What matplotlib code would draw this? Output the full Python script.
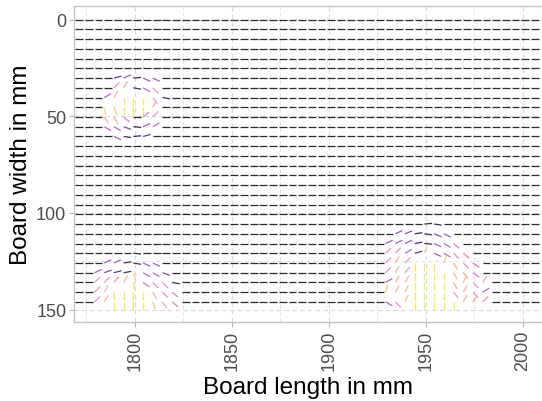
import numpy as np
import matplotlib
matplotlib.use('Agg')
import matplotlib.pyplot as plt
from matplotlib.collections import LineCollection
from matplotlib.colors import LinearSegmentedColormap

plt.rcParams['font.family'] = ['Liberation Sans', 'DejaVu Sans']

# sample points of the fibre field on the board (mm)
x_cols = 1769.3 + 5 * np.arange(48)
y_rows = np.linspace(0, 146, 30)
spoke_len = 4

# fibre angles in degrees around the three knots,
# everywhere else the fibres lie flat (angle 0)
knot_a_row0, knot_a_col0 = 5, 2
knot_a = [
    [0, 0, 0, 0, 0, 0, 0, 0],
    [0, 0, -15, -25, -5, 25, 25, 0],
    [0, 0, -45, -60, 10, 30, 45, 0],
    [0, -30, -60, 90, 90, 90, 55, 10],
    [0, 80, 70, 90, 90, 90, -60, 0],
    [0, 55, 60, 40, 0, -40, -45, 0],
    [0, 30, 30, 20, 5, -25, -30, 0],
    [0, 0, 25, 8, -5, -15, 0, 0],
]

knot_b_row0, knot_b_col0 = 24, 1
knot_b = [
    [0, 0, 0, 0, 0, 5, 0, 0, 0, 0],
    [0, 0, -25, -25, -8, 10, 25, 25, 0, 0],
    [0, -25, -20, -15, -10, 75, 30, 30, 20, 0],
    [0, -45, -45, -50, -60, 80, 35, 45, 45, 10],
    [0, -45, -60, 85, 90, 90, 90, 60, 45, 40],
    [0, -45, -60, 90, 90, 90, 90, 70, 55, 40],
]

knot_c_row0, knot_c_col0 = 21, 31
knot_c = [
    [0, 0, 0, 0, 0, -5, 8, 0, 0, 0, 0, 0, 0],
    [0, 0, -25, -22, -8, 8, 22, 25, 0, 0, 0, 0, 0],
    [0, -25, -25, -25, -10, 5, 25, 30, 40, 0, 0, 0, 0],
    [0, -45, -45, -30, -15, -70, 25, 30, 45, 40, 0, 0, 0],
    [0, -45, -60, -45, 90, 90, 90, -70, 60, 45, 35, 0, 0],
    [0, -45, -60, -50, 90, 90, 90, 90, 60, 50, 35, 0, 0],
    [0, -30, -60, -60, 90, 90, 90, 90, 60, -65, 45, -55, 0],
    [0, -75, -60, -65, 90, 90, 90, 90, 50, -60, 45, -30, 0],
    [0, 30, 45, -65, 90, 90, 90, 90, 90, -60, -55, -45, 0],
]

angle = np.zeros((len(y_rows), len(x_cols)))
for tab, r0, c0 in [(knot_a, knot_a_row0, knot_a_col0),
                    (knot_b, knot_b_row0, knot_b_col0),
                    (knot_c, knot_c_row0, knot_c_col0)]:
    tab = np.array(tab, dtype=float)
    angle[r0:r0 + tab.shape[0], c0:c0 + tab.shape[1]] = tab

cmap = LinearSegmentedColormap.from_list(
    'fibre', [(0.0, '#2a2a2a'), (0.12, '#4a2a68'), (0.3, '#a866c4'),
              (0.5, '#ec92c6'), (0.72, '#fbbb8e'), (1.0, '#f5ec55')])

X, Y = np.meshgrid(x_cols, y_rows)
rad = np.deg2rad(angle)
xe = X + spoke_len * np.cos(rad)
ye = Y + spoke_len * np.sin(rad)
segs = np.stack([np.stack([X, Y], -1), np.stack([xe, ye], -1)], axis=-2).reshape(-1, 2, 2)
cols = cmap(np.abs(angle).ravel() / 90)

fig = plt.figure(figsize=(5.42, 4.02), dpi=100)
ax = fig.add_axes([74 / 542, 1 - 323 / 402, 468 / 542, (323 - 6.7) / 402])

ax.add_collection(LineCollection(segs, colors=cols, linewidths=0.9, zorder=3))

ax.set_xticks([1800, 1850, 1900, 1950, 2000])
ax.set_xticks([1775, 1825, 1875, 1925, 1975], minor=True)
ax.set_yticks([0, 50, 100, 150])
ax.set_yticks([25, 75, 125], minor=True)
ax.set_xlim(1768.7, 2009.9)
ax.set_ylim(156.4, -7.24)
ax.grid(which='major', ls=(0, (4, 3)), color='#d9d9d9', lw=0.8, zorder=0)
ax.grid(which='minor', ls=(0, (4, 3)), color='#e3e3e3', lw=0.7, zorder=0)
ax.set_axisbelow(True)

for s in ['left', 'bottom', 'top']:
    ax.spines[s].set_color('#c6c6c6')
    ax.spines[s].set_linewidth(1.0)
ax.spines['right'].set_visible(False)

ax.tick_params(which='major', length=3.5, width=0.8, color='#b5b5b5',
               labelsize=13, labelcolor='#4d4d4d', pad=2)
ax.tick_params(which='minor', length=0)
ax.tick_params(axis='x', labelrotation=90)

ax.set_xlabel('Board length in mm', fontsize=17.5, labelpad=4)
ax.set_ylabel('Board width in mm', fontsize=17.5, labelpad=3)

fig.savefig('out.png', dpi=100)
